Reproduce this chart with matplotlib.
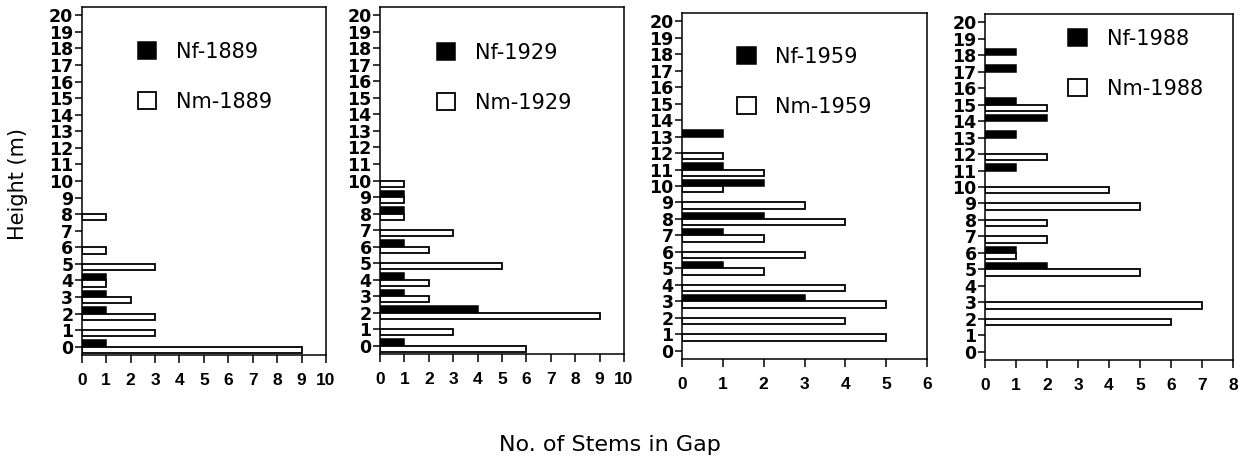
import numpy as np
import matplotlib
matplotlib.use("Agg")
import matplotlib.pyplot as plt

# heights 0..20 m, number of stems per height class
heights = np.arange(21)

nf_1889 = [1, 0, 1, 1, 1, 0, 0, 0, 0, 0, 0, 0, 0, 0, 0, 0, 0, 0, 0, 0, 0]
nm_1889 = [9, 3, 3, 2, 1, 3, 1, 0, 1, 0, 0, 0, 0, 0, 0, 0, 0, 0, 0, 0, 0]

nf_1929 = [1, 0, 4, 1, 1, 0, 1, 0, 1, 1, 0, 0, 0, 0, 0, 0, 0, 0, 0, 0, 0]
nm_1929 = [6, 3, 9, 2, 2, 5, 2, 3, 1, 1, 1, 0, 0, 0, 0, 0, 0, 0, 0, 0, 0]

nf_1959 = [0, 0, 0, 3, 0, 1, 0, 1, 2, 0, 2, 1, 0, 1, 0, 0, 0, 0, 0, 0, 0]
nm_1959 = [0, 5, 4, 5, 4, 2, 3, 2, 4, 3, 1, 2, 1, 0, 0, 0, 0, 0, 0, 0, 0]

nf_1988 = [0, 0, 0, 0, 0, 2, 1, 0, 0, 0, 0, 1, 0, 1, 2, 1, 0, 1, 1, 0, 0]
nm_1988 = [0, 0, 6, 7, 0, 5, 1, 2, 2, 5, 4, 0, 2, 0, 0, 2, 0, 0, 0, 0, 0]

years = ["1889", "1929", "1959", "1988"]
nf_all = [nf_1889, nf_1929, nf_1959, nf_1988]
nm_all = [nm_1889, nm_1929, nm_1959, nm_1988]
x_max = [10, 10, 6, 8]

# layout in pixels (left, right, top, bottom) and legend anchors
W, H = 1243, 461
boxes = [(81.7, 326, 7, 355), (380, 624, 7, 354), (682, 927, 13, 359), (985, 1233, 14, 360)]
leg_anchor = [(0.229, 0.900), (0.232, 0.897), (0.224, 0.903), (0.335, 0.958)]

fig = plt.figure(figsize=(W / 100, H / 100), dpi=100)

bar_h = 0.38
for i in range(4):
    l, r, t, b = boxes[i]
    ax = fig.add_axes([l / W, 1 - b / H, (r - l) / W, (b - t) / H])
    nf = np.array(nf_all[i])
    nm = np.array(nm_all[i])
    kf = nf > 0
    km = nm > 0
    # Nf bars sit just above the height tick, Nm bars just below it
    bf = ax.barh(heights[kf], nf[kf], height=bar_h, align="edge",
                 color="black", edgecolor="black", linewidth=1.1)
    bm = ax.barh(heights[km], nm[km], height=-bar_h, align="edge",
                 color="white", edgecolor="black", linewidth=1.3)
    ax.set_xlim(0, x_max[i])
    ax.set_ylim(-0.5, 20.5)
    ax.set_xticks(range(x_max[i] + 1))
    ax.set_yticks(heights)
    ax.tick_params(axis="x", direction="out", length=6, width=1.1, pad=7)
    ax.tick_params(axis="y", direction="out", length=5, width=1.1, pad=1)
    for lab in ax.get_xticklabels():
        lab.set_fontfamily("Liberation Sans")
        lab.set_fontweight("bold")
        lab.set_fontsize(12.5)
    for lab in ax.get_yticklabels():
        lab.set_fontfamily("DejaVu Sans")
        lab.set_fontweight("bold")
        lab.set_fontsize(12.5)
    for s in ax.spines.values():
        s.set_linewidth(1.1)

    ax.legend([bf, bm], ["Nf-" + years[i], "Nm-" + years[i]],
              loc="upper left", bbox_to_anchor=leg_anchor[i],
              frameon=False, borderpad=0, borderaxespad=0,
              handlelength=0.9, handleheight=0.87, handletextpad=0.95,
              labelspacing=1.45, prop={"family": "DejaVu Sans", "size": 15})

fig.text(610 / W, 1 - 451 / H, "No. of Stems in Gap", ha="center", va="baseline",
         fontsize=16, family="DejaVu Sans")
fig.text(18 / W, 1 - 184 / H, "Height (m)", ha="center", va="center",
         rotation=90, fontsize=15, family="DejaVu Sans")

fig.savefig("out.png", dpi=100)
